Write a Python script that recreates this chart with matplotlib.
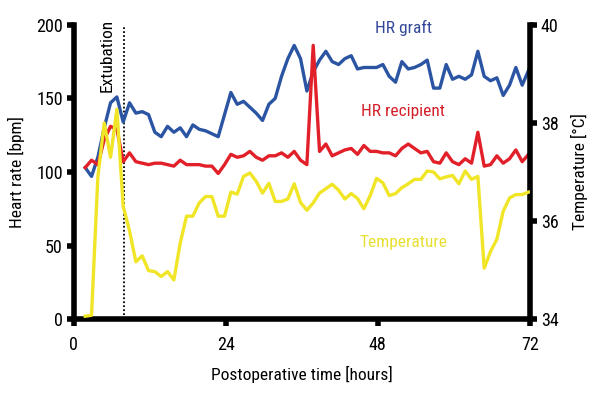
import matplotlib
matplotlib.use("Agg")
import matplotlib.pyplot as plt
from matplotlib import font_manager

# narrow sans if one is installed, else a plain one
_installed = {f.name for f in font_manager.fontManager.ttflist}
_wanted = ["Liberation Sans Narrow", "Roboto Condensed", "Open Sans Condensed",
           "Noto Sans Condensed", "DejaVu Sans Condensed", "Roboto", "Lato"]
FONT = next((n for n in _wanted if n in _installed), "DejaVu Sans")
plt.rcParams["font.family"] = [FONT, "DejaVu Sans"]

# hourly samples, postoperative time [hours]
hours = [1.8 + k for k in range(71)]

hr_graft = [103, 97, 110, 130, 147, 151, 134, 147, 140, 141,
            139, 127, 124, 131, 127, 130, 124, 132, 129, 128,
            126, 124, 139, 154, 146, 148, 144, 140, 135, 146,
            150, 165, 177, 186, 177, 155, 168, 176, 182, 175,
            173, 177, 179, 170, 171, 171, 171, 173, 165, 161,
            175, 170, 171, 173, 176, 157, 157, 173, 163, 165,
            163, 166, 182, 165, 162, 164, 152, 159, 171, 159,
            169]

hr_recipient = [103, 108, 105, 122, 131, 129, 107, 113, 107, 106,
                105, 106, 106, 105, 104, 108, 105, 105, 105, 104,
                104, 99, 105, 112, 110, 111, 114, 110, 108, 111,
                111, 113, 110, 114, 108, 105, 186, 114, 119, 111,
                113, 115, 116, 112, 118, 114, 114, 113, 113, 111,
                116, 119, 116, 113, 114, 107, 106, 113, 107, 105,
                109, 106, 127, 104, 105, 111, 106, 109, 115, 107,
                112]

temperature = [34.06, 34.08, 36.9, 38.0, 37.3, 38.28, 36.3, 35.8, 35.17, 35.29,
               34.99, 34.97, 34.87, 34.97, 34.8, 35.55, 36.1, 36.1, 36.37, 36.5,
               36.5, 36.1, 36.1, 36.59, 36.55, 36.91, 36.98, 36.81, 36.57, 36.77,
               36.4, 36.4, 36.45, 36.76, 36.38, 36.22, 36.37, 36.57, 36.66, 36.75,
               36.63, 36.45, 36.56, 36.46, 36.25, 36.52, 36.87, 36.78, 36.52, 36.56,
               36.68, 36.76, 36.85, 36.85, 37.02, 37.0, 36.86, 36.9, 36.93, 36.76,
               37.02, 36.85, 36.91, 35.04, 35.38, 35.63, 36.2, 36.47, 36.54, 36.54,
               36.59]

extubation_hour = 7.9
x_ticks = [0, 24, 48, 72]
hr_ticks = [0, 50, 100, 150, 200]
temp_ticks = [34, 36, 38, 40]

BLUE = "#2b55a3"
RED = "#e2202a"
YELLOW = "#f0e526"

fig = plt.figure(figsize=(6, 4), dpi=100)
ax = fig.add_axes([0.123, 0.202, 0.76, 0.736])
ax2 = ax.twinx()

ax.plot(hours, hr_graft, color=BLUE, lw=2.4, zorder=3)
ax.plot(hours, hr_recipient, color=RED, lw=2.4, zorder=4)
ax2.plot(hours, temperature, color=YELLOW, lw=2.4, zorder=3)

ax.plot([extubation_hour, extubation_hour], [0, 200], color="black",
        lw=1.3, ls=(0, (1, 1.2)), zorder=2)
ax.text(5.3, 204, "Extubation", rotation=90, ha="center", va="top",
        fontsize=12.5, clip_on=False)

ax.text(52, 198, "HR graft", color="#34489a", fontsize=12.5, ha="center", va="center")
ax.text(52, 141, "HR recipient", color="#d4202a", fontsize=12.5, ha="center", va="center")
ax.text(52, 52, "Temperature", color="#e8e030", fontsize=12.5, ha="center", va="center")

ax.set_xlim(0, 72)
ax.set_ylim(0, 200)
ax2.set_ylim(34, 40)
ax.set_xticks(x_ticks)
ax.set_yticks(hr_ticks)
ax2.set_yticks(temp_ticks)

ax.set_xlabel("Postoperative time [hours]", fontsize=12.5, labelpad=9)
ax.set_ylabel("Heart rate [bpm]", fontsize=12.5, labelpad=8)
ax2.set_ylabel("Temperature [°C]", fontsize=12.5, labelpad=9)

for a in (ax, ax2):
    a.spines["top"].set_visible(False)
    for s in a.spines.values():
        s.set_linewidth(4)
    a.tick_params(width=4, length=5, labelsize=13, pad=3)
ax.tick_params(axis="x", pad=7)
ax.spines["right"].set_visible(False)
ax2.spines["left"].set_visible(False)
ax2.spines["bottom"].set_visible(False)

fig.savefig("out.png", dpi=100)
